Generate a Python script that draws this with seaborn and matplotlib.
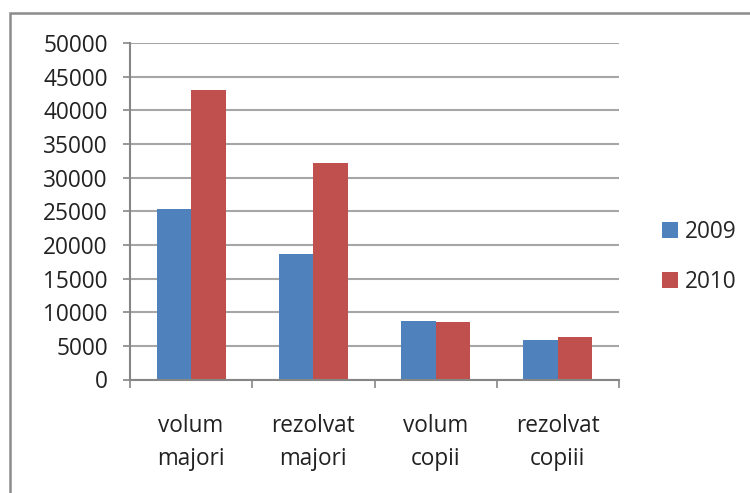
import matplotlib
matplotlib.use("Agg")
import matplotlib.pyplot as plt
import matplotlib.patches as mpatches
import seaborn as sns
import pandas as pd
import numpy as np

categories = ["volum\nmajori", "rezolvat\nmajori", "volum\ncopii", "rezolvat\ncopiii"]
values_2009 = [25300, 18600, 8700, 5850]
values_2010 = [43000, 32100, 8500, 6250]
series = ["2009", "2010"]
colors = ["#4F81BD", "#C0504D"]
yticks = list(range(0, 50001, 5000))

df = pd.DataFrame({
    "cat": categories * 2,
    "year": [series[0]] * 4 + [series[1]] * 4,
    "val": values_2009 + values_2010,
})

sns.set_style("white")
plt.rcParams["font.family"] = ["Open Sans", "DejaVu Sans"]

FS = 16.3

fig = plt.figure(figsize=(7.5, 4.93), dpi=100)
ax = fig.add_axes([130/750, 1-379.5/493, 489/750, (379.5-43)/493])

# outer chart border
fig.patches.append(mpatches.Rectangle((10/750, -0.1), 1.2, 1-13/493+0.1,
                                      transform=fig.transFigure, fill=False,
                                      edgecolor="#8c8c8c", linewidth=1.8, zorder=0))

sns.barplot(data=df, x="cat", y="val", hue="year", palette=colors,
            width=0.566, order=categories, hue_order=series, ax=ax,
            saturation=1, edgecolor="none", legend=False, zorder=3)

ax.set_ylim(0, 50000)
ax.set_xlim(-0.5, 3.5)
ax.set_yticks(yticks)
ax.set_yticklabels([str(t) for t in yticks], fontsize=FS, color="#222222")
ax.yaxis.grid(True, color="#a6a6a6", linewidth=1.5)
ax.set_axisbelow(True)
ax.set_xlabel("")
ax.set_ylabel("")

for s in ["top", "right"]:
    ax.spines[s].set_visible(False)
for s in ["left", "bottom"]:
    ax.spines[s].set_color("#868686")
    ax.spines[s].set_linewidth(1.5)
    ax.spines[s].set_zorder(4)

ax.tick_params(axis="y", which="major", length=5, width=1.2, color="#868686", pad=11, left=True)
ax.set_xticks(range(4))
ax.set_xticklabels(categories, fontsize=FS, color="#222222", linespacing=1.5)
ax.tick_params(axis="x", which="major", length=0, pad=25)
ax.set_xticks([-0.5, 0.5, 1.5, 2.5, 3.5], minor=True)
ax.tick_params(axis="x", which="minor", length=6, width=1.2, color="#868686", bottom=True)

handles = [mpatches.Patch(facecolor=c, edgecolor="none", label=l) for c, l in zip(colors, series)]
fig.legend(handles=handles, loc="center left", bbox_to_anchor=(662/750, 1-257/493),
           frameon=False, fontsize=FS, handlelength=0.7, handleheight=0.7,
           handletextpad=0.3, labelspacing=1.15, borderaxespad=0, borderpad=0)

fig.savefig("out.png", dpi=100)
